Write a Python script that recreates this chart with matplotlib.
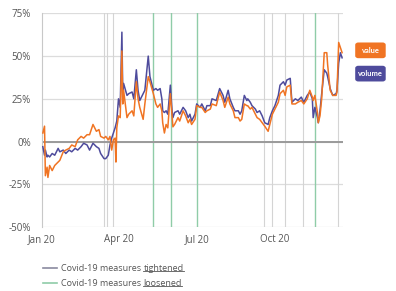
import matplotlib.pyplot as plt
import numpy as np
from matplotlib.lines import Line2D
from matplotlib.patches import FancyBboxPatch

plt.rcParams['font.family'] = ['Open Sans', 'DejaVu Sans']

# days since 1 Jan 2020, with y/y change in %
days = [1, 3, 4, 6, 7, 9, 12, 15, 19, 21, 25, 28, 32, 35, 39, 42, 46, 49, 53, 56,
        60, 64, 67, 69, 73, 75, 78, 80, 82, 84, 86, 87, 88, 90, 92, 94, 95, 96, 100, 102,
        106, 108, 111, 113, 115, 119, 121, 125, 127, 131, 134, 136, 139, 141, 142, 144, 146, 148, 151, 153,
        154, 156, 160, 162, 166, 169, 172, 174, 176, 180, 182, 186, 188, 192, 194, 198, 200, 205, 209, 213,
        215, 219, 221, 225, 227, 231, 233, 235, 238, 241, 242, 245, 247, 251, 253, 256, 259, 262, 266, 268,
        271, 274, 278, 280, 284, 286, 288, 292, 294, 298, 301, 305, 308, 312, 315, 318, 319, 321, 324, 325,
        327, 329, 332, 335, 336, 339, 342, 346, 347, 349, 351, 353]
volume = [-3, -8, -5, -9, -8, -9, -7, -8, -4, -6, -5, -7, -5, -6, -4, -5, -3, -1, -2, -5,
          -1, -3, -4, -7, -10, -10, -8, -2, 2, 5, 8, 10, 12, 25, 20, 64, 29, 34, 27, 28,
          29, 25, 42, 30, 24, 28, 30, 50, 38, 30, 31, 30, 31, 25, 18, 17, 18, 16, 33, 18,
          14, 17, 18, 16, 20, 18, 14, 16, 12, 16, 22, 20, 22, 18, 21, 21, 25, 24, 31, 27,
          23, 30, 25, 20, 18, 18, 16, 18, 27, 24, 25, 23, 21, 19, 17, 18, 15, 11, 10, 14,
          18, 21, 27, 33, 35, 33, 36, 37, 23, 25, 24, 26, 23, 27, 29, 25, 14, 20, 14, 11,
          18, 28, 42, 40, 38, 31, 27, 28, 30, 46, 52, 49]
value = [5, 9, -20, -15, -21, -14, -17, -14, -12, -11, -6, -5, -4, -2, -3, 1, 3, 2, 4, 4,
         10, 6, 7, 3, 2, 3, 1, 3, -5, 1, 2, -12, 8, 15, 14, 53, 22, 30, 14, 16,
         18, 15, 35, 25, 20, 13, 22, 38, 35, 28, 22, 20, 22, 18, 11, 5, 10, 8, 28, 15,
         8.6, 10, 14, 12, 18, 15, 11, 13, 10, 13, 21, 20, 20, 17, 18, 19, 22, 21, 29, 24,
         20, 26, 22, 18, 14, 14, 12, 13, 22, 21, 21, 19, 20, 16, 14, 13, 11, 9, 6, 10,
         16, 19, 23, 28, 30, 27, 32, 33, 22, 22, 23, 24, 22, 25, 30, 26, 24, 27, 17, 11,
         15, 25, 52, 52, 45, 30, 27, 27, 29, 58, 55, 52]

tightened = [73, 76, 83, 261, 271, 286, 307, 348]
loosened = [131, 152, 182, 321]

start = np.datetime64('2020-01-01')
dates = start + np.array(days)

fig = plt.figure(figsize=(3.96, 2.91), dpi=100)
ax = fig.add_axes([0.106, 0.22, 0.76, 0.734])

for d in tightened:
    ax.axvline(start + d, color='#d4d4d4', lw=0.8, zorder=1)
for d in loosened:
    ax.axvline(start + d, color='#8fcca8', lw=1.0, zorder=1)

ax.axhline(0, color='#9a9a9a', lw=1.4, zorder=1.5)
ax.plot(dates, volume, color='#4e4b9c', lw=1.1, zorder=3)
ax.plot(dates, value, color='#f07423', lw=1.1, zorder=4)

ax.set_xlim(start, start + 354)
ax.set_ylim(-50, 75)
ax.set_yticks([-50, -25, 0, 25, 50, 75])
ax.set_yticklabels(['-50%', '-25%', '0%', '25%', '50%', '75%'])
ax.set_xticks([start, start + 91, start + 182, start + 274])
ax.set_xticklabels(['Jan 20', 'Apr 20', 'Jul 20', 'Oct 20'])
ax.grid(axis='y', color='#dcdcdc', lw=0.9)
ax.set_axisbelow(True)
for s in ['top', 'right', 'bottom']:
    ax.spines[s].set_visible(False)
ax.spines['left'].set_color('#c8c8c8')
ax.tick_params(length=0, labelsize=7, colors='#555555')
ax.tick_params(axis='y', pad=8)
ax.tick_params(axis='x', pad=5)

# series boxes on the right
for yb, label, col in [(0.80, 'value', '#f07423'), (0.72, 'volume', '#4e4b9c')]:
    fig.patches.append(FancyBboxPatch((0.897, yb), 0.077, 0.054, boxstyle='round,pad=0,rounding_size=0.008',
                                      transform=fig.transFigure, fc=col, ec='none'))
    fig.text(0.9355, yb + 0.027, label, color='white', fontsize=5.4, fontweight='bold',
             family=['Lato', 'DejaVu Sans'], ha='center', va='center')

# bottom legend with underlined words
fig.canvas.draw()
rend = fig.canvas.get_renderer()
for yl, col, word in [(0.079, '#8a8aa0', 'tightened'), (0.027, '#8fcca8', 'loosened')]:
    fig.add_artist(Line2D([0.109, 0.144], [yl, yl], color=col, lw=1.2, transform=fig.transFigure))
    t1 = fig.text(0.154, yl, 'Covid-19 measures ', fontsize=6.5, color='#555555', va='center')
    bb = t1.get_window_extent(rend)
    x2 = bb.x1 / fig.bbox.width
    t2 = fig.text(x2, yl, word, fontsize=6.5, color='#555555', va='center')
    bb2 = t2.get_window_extent(rend)
    yu = bb2.y0 / fig.bbox.height + 0.004
    fig.add_artist(Line2D([x2, bb2.x1 / fig.bbox.width], [yu, yu], color='#555555', lw=0.6,
                          transform=fig.transFigure))

fig.savefig('out.png', dpi=100)
plt.close(fig)
